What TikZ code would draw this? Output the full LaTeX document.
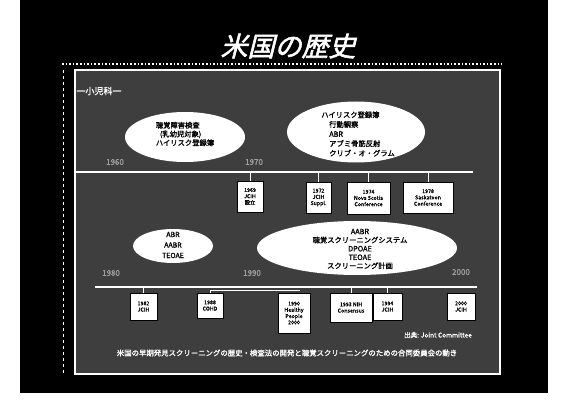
\documentclass[tikz,border=0pt]{standalone}
\usepackage{fontspec}
\setmainfont{Noto Sans CJK JP}
\newfontfamily\titlefont[FakeSlant=0.25,FakeBold=2]{Noto Sans CJK JP}
\newfontfamily\boldjp[FakeBold=1.2]{Noto Sans CJK JP}
\usetikzlibrary{shapes.geometric}
\definecolor{panel}{RGB}{62,62,62}
\begin{document}
\begin{tikzpicture}[x=1pt,y=-1pt,
  ellshape/.style={ellipse, fill=white, draw=none, inner sep=0pt},
  lbl/.style={font=\boldjp\fontsize{7.3}{8.8}\selectfont, text=black, align=left, inner sep=0pt},
  ev/.style={fill=white, draw=black, line width=0.3pt, font=\boldjp\fontsize{5.3}{6.3}\selectfont, align=center, inner sep=0.5pt, text=black},
  tl/.style={draw=white, line width=1.8pt},
  tk/.style={draw=white, line width=1pt},
  era/.style={text=gray!75, font=\boldjp\fontsize{8}{8}\selectfont},
  wtext/.style={text=white, inner sep=0pt}
]
\useasboundingbox (0,0) rectangle (564,403);
\fill[white] (0,0) rectangle (564,403);
\fill[black] (20,0) rectangle (548,393);

% title
\node[wtext, font=\titlefont\fontsize{27}{27}\selectfont] (title) at (288,46) {米国の歴史};
\coordinate (ul1) at (62,64);
\coordinate (ul2) at (502,64);
\draw[white, dotted, line width=1.6pt] (ul1) -- (ul2);

% panel
\fill[panel] (75,70) rectangle (500,374);
\draw[white, line width=1.3pt] (75,70) rectangle (500,374);
\coordinate (lf1) at (63,70);
\coordinate (lf2) at (63,374);
\draw[white, dashed, line width=0.8pt] (lf1) -- (lf2);

\node[wtext, font=\boldjp\fontsize{9}{9}\selectfont] (ped) at (99,91) {一小児科一};

% era labels
\node[era] (y60) at (115,162) {1960};
\node[era] (y70) at (254,162) {1970};
\node[era] (y80) at (111,273) {1980};
\node[era] (y90) at (252,273) {1990};
\node[era] (y00) at (461,272) {2000};

% ellipses
\node[ellshape, minimum width=120pt, minimum height=50pt] (e1) at (185,137) {};
\node[lbl] (e1t) at (185,134) {聴覚障害検査\\\hspace*{4pt}(乳幼児対象)\\ハイリスク登録簿};

\node[ellshape, minimum width=138pt, minimum height=61pt] (e2) at (356,132) {};
\node[lbl, font=\boldjp\fontsize{7.3}{9.6}\selectfont] (e2t) at (358,134) {ハイリスク登録簿\\\hspace*{8pt}行動観察\\\hspace*{8pt}ABR\\\hspace*{8pt}アブミ骨筋反射\\\hspace*{8pt}クリブ・オ・グラム};

\node[ellshape, minimum width=80pt, minimum height=34pt] (e3) at (173,246) {};
\node[lbl, align=center, font=\boldjp\fontsize{7}{10.5}\selectfont] (e3t) at (173,245) {ABR\\AABR\\TEOAE};

\node[ellshape, minimum width=200pt, minimum height=54pt] (e4) at (357,248) {};
\node[lbl, align=center, font=\boldjp\fontsize{7.3}{8.6}\selectfont] (e4t) at (360,249) {AABR\\聴覚スクリーニングシステム\\DPOAE\\TEOAE\\スクリーニング計画};

% top timeline
\coordinate (ta) at (76,172);
\coordinate (tb) at (473,172);
\draw[tl] (ta) -- (tb);
\node[ev, minimum width=26pt, minimum height=31pt] (t1) at (250,196.5) {1969\\JCIH\\設立};
\node[ev, minimum width=25pt, minimum height=31pt] (t2) at (318.5,197.5) {1972\\JCIH\\Suppl.};
\node[ev, minimum width=43pt, minimum height=32pt] (t3) at (368.5,198) {1974\\Nova Scotia\\Conference};
\node[ev, minimum width=50pt, minimum height=31pt] (t4) at (428,197.5) {1978\\Saskatoon\\Conference};
\foreach \b in {t1,t2,t3,t4} \draw[tk] (\b.north) -- (\b.north |- ta);

% bottom timeline
\coordinate (ba) at (95,287);
\coordinate (bb) at (477,287);
\draw[tl] (ba) -- (bb);
\node[ev, minimum width=27pt, minimum height=27pt] (c1) at (143.5,306.5) {1982\\JCIH};
\node[ev, minimum width=26pt, minimum height=25pt] (c2) at (210,305.5) {1988\\COHD};
\node[ev, minimum width=32pt, minimum height=40pt] (c3) at (294,313) {1990\\Healthy\\People\\2000};
\node[ev, minimum width=42pt, minimum height=29pt] (c4) at (351,307.5) {1993 NIH\\Consensus};
\node[ev, minimum width=29pt, minimum height=27pt] (c5) at (387.5,306.5) {1994\\JCIH};
\node[ev, minimum width=28pt, minimum height=27pt] (c6) at (461,306.5) {2000\\JCIH};
\draw[tk] (c1.north) -- (c1.north |- ba);
\draw[tk] (c4.north) -- (c4.north |- ba);
\draw[tk] (c5.north) -- (c5.north |- ba);
\coordinate (c2k) at (300,290.5);
\draw[tk] (c2.north) |- (c2k);

% source and caption
\node[wtext, font=\boldjp\fontsize{6.5}{6.5}\selectfont] (src) at (438,335) {出典: Joint Committee};
\node[wtext, font=\boldjp\fontsize{7.4}{7.4}\selectfont] (cap) at (287,353) {米国の早期発見スクリーニングの歴史・検査法の開発と聴覚スクリーニングのための合同委員会の動き};
\end{tikzpicture}
\end{document}
